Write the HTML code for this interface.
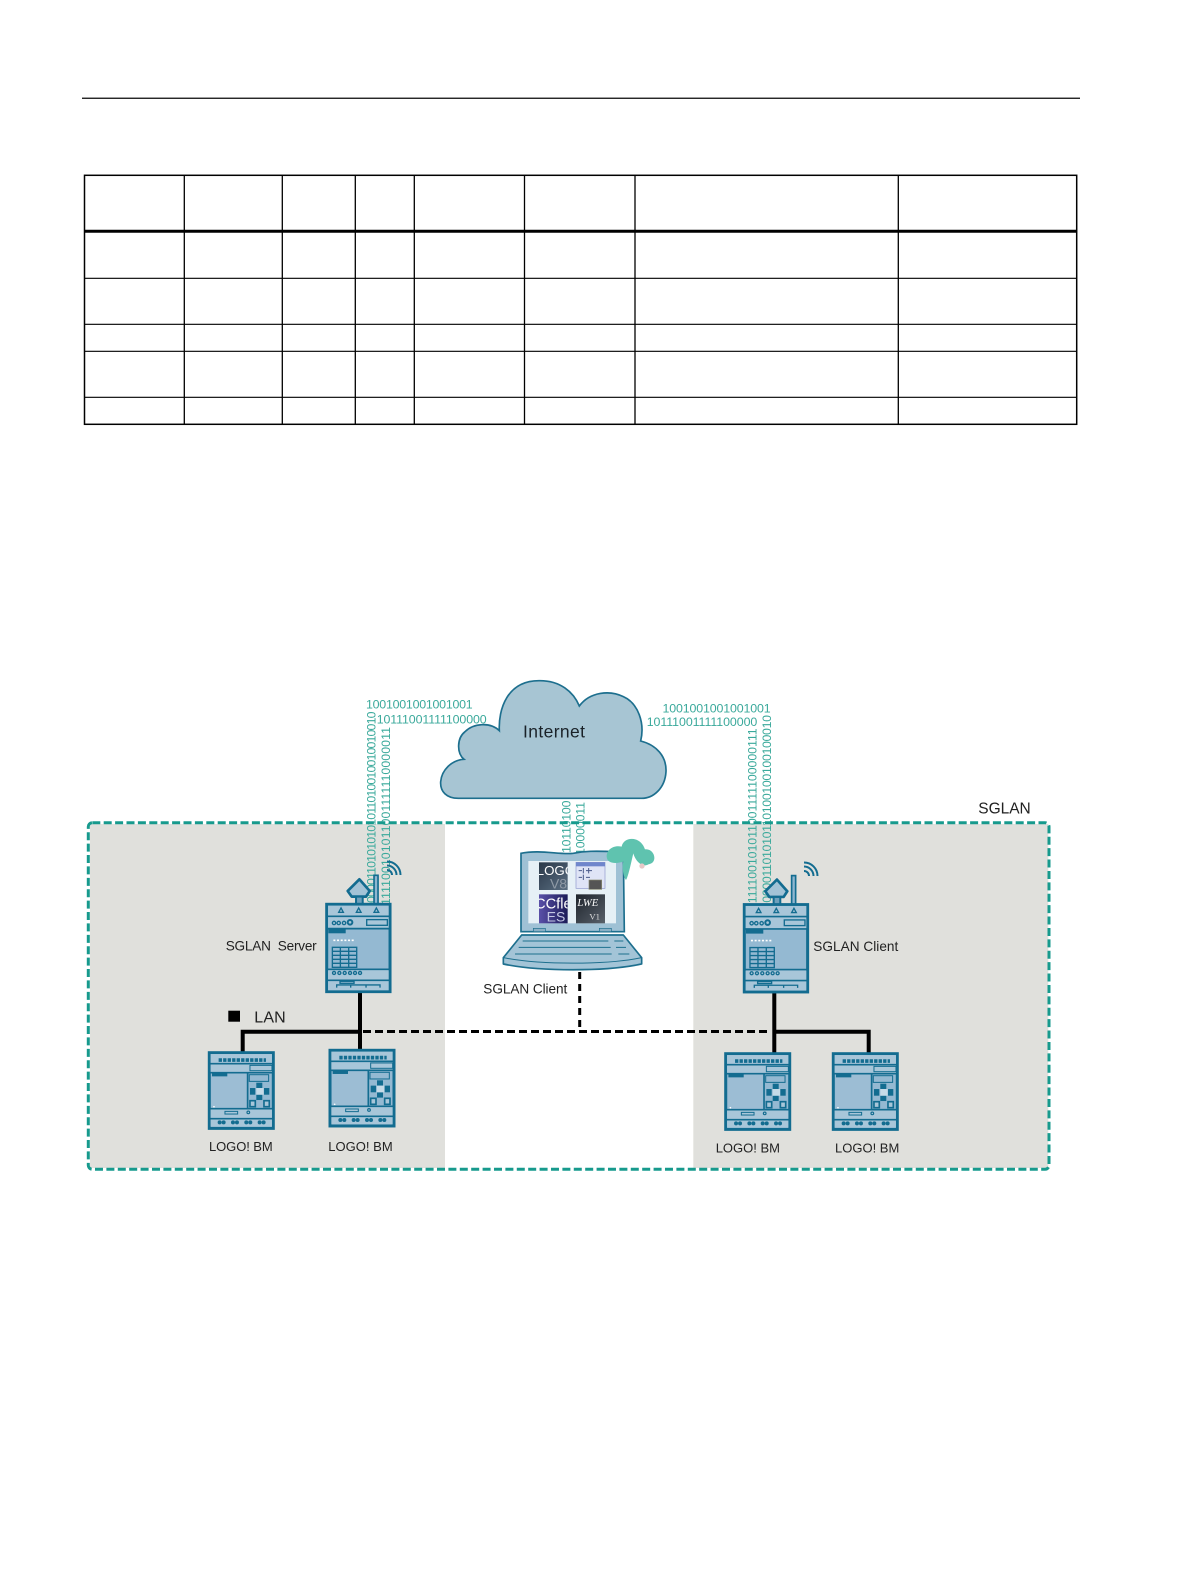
<!DOCTYPE html>
<html>
<head>
<meta charset="utf-8">
<style>
html,body{margin:0;padding:0;background:#fff}
svg{display:block}
text{font-family:"Liberation Sans",sans-serif}
.b{fill:#3aa99b;font-size:12.4px}
.l{fill:#222;font-size:13.6px}
.m{fill:#222;font-size:13px}
</style>
</head>
<body>
<svg width="1191" height="1587" viewBox="0 0 1191 1587" xmlns="http://www.w3.org/2000/svg">
<defs>
<g id="router">
  <path d="M63,-40 L98,-75 L129,-40 L118,-23 L75,-23 Z" fill="#a3c3d6" stroke="#136c90" stroke-width="8" stroke-linejoin="round"/>
  <rect x="88" y="-23" width="20" height="23" fill="#6fa0bb" stroke="#136c90" stroke-width="6"/>
  <rect x="142" y="-87" width="12" height="87" fill="#8fb6cf" stroke="#136c90" stroke-width="5"/>
  <rect x="0" y="0" width="190" height="262" fill="#94b9d2" stroke="#136c90" stroke-width="9"/>
  <rect x="4" y="4" width="182" height="31" fill="#a8c6d9"/>
  <rect x="4" y="38" width="182" height="34" fill="#a8c6d9"/>
  <rect x="4" y="198" width="182" height="60" fill="#a8c6d9"/>
  <path d="M0,36H190M0,73H190M0,195H190M0,228H190" stroke="#136c90" stroke-width="5" fill="none"/>
  <g fill="none" stroke="#136c90" stroke-width="4">
    <path d="M43,11 L50,24 L36,24 Z M96,11 L103,24 L89,24 Z M149,11 L156,24 L142,24 Z"/>
    <circle cx="22" cy="56" r="5"/><circle cx="36" cy="56" r="5"/><circle cx="52" cy="56" r="5"/>
    <circle cx="70" cy="54" r="7" stroke-width="6"/>
    <rect x="120" y="46" width="62" height="17"/>
    <path d="M17,129H90V189H17ZM17,141H90M17,153H90M17,165H90M17,177H90M41,129V189M66,129V189"/>
    <circle cx="22" cy="206" r="4.5"/><circle cx="38" cy="206" r="4.5"/><circle cx="54" cy="206" r="4.5"/><circle cx="70" cy="206" r="4.5"/><circle cx="85" cy="206" r="4.5"/><circle cx="100" cy="206" r="4.5"/>
    <path d="M30,250V242H160V250M72,242V250M118,242V250"/>
    <rect x="40" y="231" width="42" height="6"/>
  </g>
  <rect x="5" y="74" width="52" height="13" fill="#136c90"/>
  <path d="M20,108H86" stroke="#fff" stroke-width="5" stroke-dasharray="6 5"/>
</g>
<g id="logo">
  <rect x="0" y="0" width="192" height="227" fill="#94b9d2" stroke="#136c90" stroke-width="9"/>
  <rect x="4" y="4" width="184" height="28" fill="#a8c6d9"/>
  <rect x="4" y="34" width="184" height="26" fill="#a8c6d9"/>
  <rect x="4" y="170" width="184" height="52" fill="#a8c6d9"/>
  <rect x="6" y="60" width="106" height="108" fill="#9cbdd4"/>
  <path d="M0,33H192M0,60H192M0,168H192M0,198H192M115,60V168" stroke="#136c90" stroke-width="5" fill="none"/>
  <g fill="none" stroke="#136c90" stroke-width="3.5">
    <path d="M28,22h142" stroke-width="11" stroke-dasharray="10 3.5"/>
    <rect x="122" y="38" width="66" height="16" stroke-width="3"/>
    <rect x="120" y="66" width="58" height="20" stroke-width="3"/>
    <rect x="47" y="176" width="38" height="8" stroke-width="3"/>
    <circle cx="117" cy="179" r="4"/>
  </g>
  <rect x="141" y="90" width="18" height="16" fill="#136c90"/>
  <rect x="122" y="106" width="16" height="20" fill="#136c90"/>
  <rect x="164" y="106" width="16" height="20" fill="#136c90"/>
  <rect x="141" y="126" width="18" height="16" fill="#136c90"/>
  <g fill="#a8c6d9" stroke="#136c90" stroke-width="5">
    <rect x="122" y="144" width="16" height="18"/>
    <rect x="164" y="144" width="16" height="18"/>
  </g>
  <rect x="141" y="106" width="22" height="20" fill="#c6dbe8"/>
  <g fill="#136c90">
    <circle cx="31" cy="209" r="6"/><circle cx="43" cy="209" r="6"/>
    <circle cx="71" cy="209" r="6"/><circle cx="83" cy="209" r="6"/>
    <circle cx="111" cy="209" r="6"/><circle cx="123" cy="209" r="6"/>
    <circle cx="151" cy="209" r="6"/><circle cx="163" cy="209" r="6"/>
  </g>
  <circle cx="14" cy="162" r="2.5" fill="#fff"/>
  <rect x="8" y="62" width="46" height="9" fill="#136c90"/>
</g>
<clipPath id="t1"><rect x="597" y="607" width="86" height="83"/></clipPath>
<clipPath id="t3"><rect x="597" y="703" width="86" height="87"/></clipPath>
<linearGradient id="g1" x1="0" y1="0" x2="1" y2="1"><stop offset="0" stop-color="#2a3848"/><stop offset="1" stop-color="#5a6e82"/></linearGradient>
<linearGradient id="g3" x1="0" y1="0" x2="1" y2="0"><stop offset="0" stop-color="#5a50a8"/><stop offset="1" stop-color="#1c1c58"/></linearGradient>
<linearGradient id="g4" x1="0" y1="0" x2="1" y2="1"><stop offset="0" stop-color="#1e242c"/><stop offset="1" stop-color="#58606a"/></linearGradient>
</defs>

<rect width="1191" height="1587" fill="#fff"/>

<!-- header rule -->
<rect x="82" y="97.6" width="998" height="1.3" fill="#111"/>

<!-- table -->
<g stroke="#000" fill="none">
  <rect x="84.5" y="175.3" width="992.2" height="249" stroke-width="1.5"/>
  <path d="M184.3,175V424M282.3,175V424M355.3,175V424M414.3,175V424M524.5,175V424M635,175V424M898.3,175V424" stroke-width="1.3"/>
  <path d="M84,231.3H1077" stroke-width="3"/>
  <path d="M84,278.3H1077M84,324.3H1077M84,351.3H1077M84,397.3H1077" stroke-width="1.2"/>
</g>

<!-- gray zones -->
<rect x="90" y="824" width="355" height="344" fill="#e0e0dc"/>
<rect x="693.3" y="824" width="355" height="344" fill="#e0e0dc"/>

<!-- binary horizontal -->
<text class="b" x="366" y="708.3" textLength="106.7">1001001001001001</text>
<text class="b" x="376.7" y="723.5" textLength="110">10111001111100000</text>
<text class="b" x="662.5" y="712.3" textLength="108.2">1001001001001001</text>
<text class="b" x="646.7" y="725.8" textLength="110.6">10111001111100000</text>

<!-- binary vertical -->
<text class="b" transform="translate(375.5,903) rotate(-90)" textLength="191.5">00001101010101011010010010010010</text>
<text class="b" transform="translate(390,905) rotate(-90)" textLength="178">111100101011001111110000011</text>
<text class="b" transform="translate(570.5,853) rotate(-90)" textLength="52.5">10110100</text>
<text class="b" transform="translate(584.5,855) rotate(-90)" textLength="53">10000011</text>
<text class="b" transform="translate(756.7,903.3) rotate(-90)" textLength="175">111100101011001111100000111</text>
<text class="b" transform="translate(771,902.7) rotate(-90)" textLength="187.7">00001101010110100100100100010</text>

<!-- cloud -->
<g transform="translate(340,660) scale(.33333)">
  <path d="M355,415 C320,415 300,395 302,365 C305,330 335,300 372,298 C350,280 350,235 375,215 C400,190 450,185 478,212 C475,150 500,60 600,62 C660,62 700,95 718,138 C750,95 810,90 850,110 C895,130 915,190 902,243 C950,255 980,290 978,335 C975,385 940,415 905,415 Z" fill="#a7c5d3" stroke="#1d6f8e" stroke-width="5"/>
</g>
<text x="523" y="737.7" textLength="62" style="font-size:17.5px;fill:#1a2228">Internet</text>

<!-- dashed SGLAN border -->
<rect x="88.3" y="822.7" width="960.7" height="346.6" rx="4" fill="none" stroke="#179a8d" stroke-width="3" stroke-dasharray="8 3.4"/>
<text x="978.3" y="813.3" textLength="52.4" style="font-size:15.5px;fill:#222">SGLAN</text>

<!-- connectors -->
<g stroke="#000" fill="none">
  <path d="M360,991V1052M242.7,1053V1031.7H360" stroke-width="4"/>
  <path d="M774.3,992V1054M774.3,1031.7H868.7V1054" stroke-width="4"/>
  <path d="M363,1031.5H768" stroke-width="3" stroke-dasharray="8 4"/>
  <path d="M579.7,972V1031" stroke-width="3" stroke-dasharray="7 5"/>
</g>

<!-- laptop -->
<g transform="translate(340,660) scale(.33333)">
  <path d="M543,580 C600,568 660,585 700,580 C750,570 790,575 850,575 L853,815 L543,815 Z" fill="#9fc1d5" stroke="#1d6f8e" stroke-width="5"/>
  <rect x="565" y="603" width="263" height="187" fill="#e6f0f6"/>
  <rect x="597" y="607" width="86" height="83" fill="url(#g1)"/>
  <g clip-path="url(#t1)">
    <text x="590" y="645" style="font-size:40px;fill:#fff">LOGO</text>
    <text x="630" y="685" style="font-size:42px;fill:#8f9aa6">V8</text>
  </g>
  <rect x="708" y="607" width="87" height="78" fill="#dfe4f6" stroke="#8f96cc" stroke-width="2"/>
  <rect x="708" y="607" width="87" height="12" fill="#6f86cc"/>
  <path d="M716,632H726M738,632H756M716,652H726M738,652H750M730,624v16M746,624v16M730,644v16" stroke="#4a5a8a" stroke-width="3" fill="none"/>
  <rect x="747" y="660" width="38" height="28" fill="#555" stroke="#8a8a70" stroke-width="2"/>
  <rect x="597" y="703" width="86" height="87" fill="url(#g3)"/>
  <g clip-path="url(#t3)">
    <text x="585" y="745" style="font-size:44px;fill:#fff">CCfle</text>
    <text x="620" y="785" style="font-size:42px;fill:#c4c8e4">ES</text>
  </g>
  <rect x="708" y="703" width="87" height="87" fill="url(#g4)"/>
  <text x="712" y="738" style="font-size:32px;font-style:italic;font-family:'Liberation Serif',serif;fill:#fff">LWE</text>
  <text x="748" y="778" style="font-size:26px;font-family:'Liberation Serif',serif;fill:#ddd">V1</text>
  <rect x="580" y="805" width="36" height="10" fill="#8ab0c6" stroke="#1d6f8e" stroke-width="2"/>
  <rect x="778" y="805" width="36" height="10" fill="#8ab0c6" stroke="#1d6f8e" stroke-width="2"/>
  <path d="M545,825 L850,825 L905,893 L905,912 C800,935 600,935 490,912 L490,893 Z" fill="#a3c4d7" stroke="#1d6f8e" stroke-width="5" stroke-linejoin="round"/>
  <path d="M490,893 C600,915 800,915 905,893" fill="none" stroke="#1d6f8e" stroke-width="3"/>
  <path d="M548,843H805M823,843H850M536,862H812M828,862H858M525,882H815M835,882H868" stroke="#1d6f8e" stroke-width="3" fill="none"/>
  <!-- teal cloud -->
  <g fill="#5fc3af">
    <path d="M800,590 C800,565 825,555 845,560 C850,530 900,525 915,568 C945,565 955,610 925,613 C905,625 885,600 880,580 C875,600 865,650 858,660 C850,650 845,620 850,605 C835,610 802,615 800,590 Z"/>
  </g>
  <circle cx="906" cy="618" r="8" fill="#e8c8c8"/>
</g>

<!-- devices -->
<use href="#router" transform="translate(326.7,904.3) scale(.33333)"/>
<use href="#router" transform="translate(744.3,904.6) scale(.33333)"/>
<use href="#logo" transform="translate(209.3,1052.7) scale(.33333)"/>
<use href="#logo" transform="translate(330,1050.3) scale(.33333)"/>
<use href="#logo" transform="translate(725.7,1053.7) scale(.33333)"/>
<use href="#logo" transform="translate(833.3,1053.7) scale(.33333)"/>

<!-- wifi -->
<g fill="none" stroke="#136c90" stroke-width="2">
  <path d="M387,870A5,5 0 0 1 392,875M387,865.5A9.5,9.5 0 0 1 396.5,875M387,861.5A13.5,13.5 0 0 1 400.5,875"/>
  <path d="M804,871A5,5 0 0 1 809,876M804,866.5A9.5,9.5 0 0 1 813.5,876M804,862.5A13.5,13.5 0 0 1 817.5,876"/>
</g>

<!-- labels -->
<text class="l" x="225.7" y="950.7" textLength="91" xml:space="preserve">SGLAN  Server</text>
<text class="l" x="813.3" y="951" textLength="85">SGLAN Client</text>
<text class="l" x="483.3" y="993.3" textLength="84">SGLAN Client</text>
<rect x="228.3" y="1010.7" width="11.7" height="11" fill="#000"/>
<text x="254.3" y="1022.3" textLength="31.4" style="font-size:16px;fill:#222">LAN</text>
<text class="m" x="209" y="1151" textLength="63.7">LOGO! BM</text>
<text class="m" x="328.3" y="1151" textLength="64.4">LOGO! BM</text>
<text class="m" x="715.7" y="1152.3" textLength="64.3">LOGO! BM</text>
<text class="m" x="835" y="1152.3" textLength="64.3">LOGO! BM</text>
</svg>
</body>
</html>
